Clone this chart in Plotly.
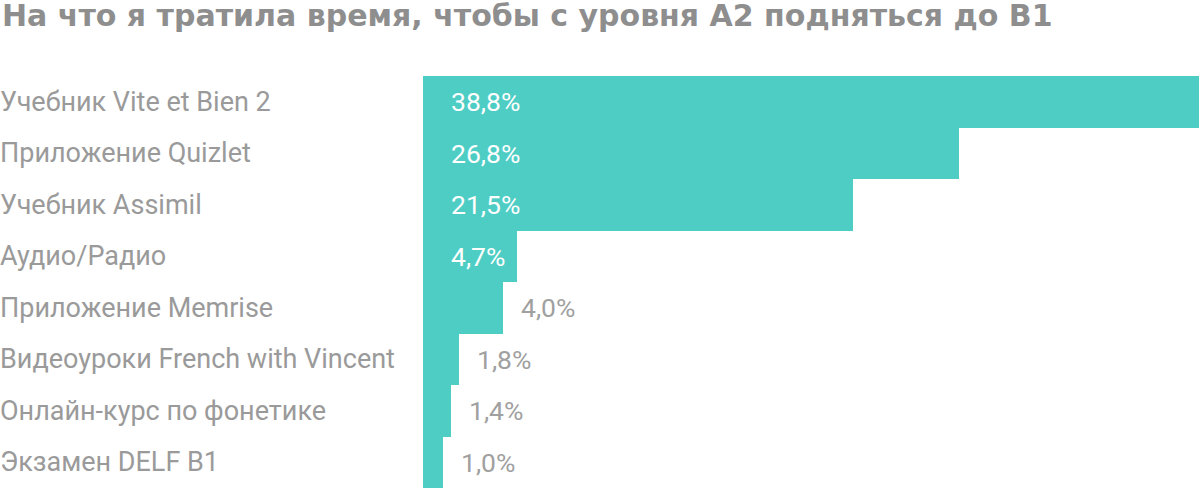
import plotly.graph_objects as go

# Data
categories = [
    "Учебник Vite et Bien 2",
    "Приложение Quizlet",
    "Учебник Assimil",
    "Аудио/Радио",
    "Приложение Memrise",
    "Видеоуроки French with Vincent",
    "Онлайн-курс по фонетике",
    "Экзамен DELF B1",
]
shares = [38.8, 26.8, 21.5, 4.7, 4.0, 1.8, 1.4, 1.0]

title = "На что я тратила время, чтобы с уровня A2 подняться до B1"

BAR = "#4ecdc4"
GREY = "#9a9a9a"
FONT = "Roboto, Arial, sans-serif"

fig = go.Figure(go.Bar(
    x=shares,
    y=categories,
    orientation="h",
    marker=dict(color=BAR, line=dict(width=0)),
    hoverinfo="skip",
))

annotations = []
for cat, v in zip(categories, shares):
    label = f"{v:.1f}".replace(".", ",") + "%"
    # category name at the far left
    annotations.append(dict(
        x=0, xref="paper", y=cat, yref="y", text=cat, showarrow=False,
        xanchor="left", xshift=-2, font=dict(family=FONT, size=27, color=GREY),
    ))
    if v > 4.5:
        annotations.append(dict(
            x=0, xref="x", y=cat, yref="y", text=label, showarrow=False,
            xanchor="left", xshift=26, font=dict(family=FONT, size=26.5, color="white"),
        ))
    else:
        annotations.append(dict(
            x=v, xref="x", y=cat, yref="y", text=label, showarrow=False,
            xanchor="left", xshift=16, font=dict(family=FONT, size=26.5, color="#a0a0a0"),
        ))

fig.update_layout(
    width=1200, height=490,
    margin=dict(l=0, r=0, t=76, b=2),
    paper_bgcolor="white", plot_bgcolor="white",
    bargap=0,
    showlegend=False,
    title=dict(text="<b>" + title + "</b>", x=0, xref="container", xanchor="left",
               y=1, yref="container", yanchor="top", pad=dict(t=5, l=2),
               font=dict(family="DejaVu Sans, sans-serif", size=30, color="#8e8e8e")),
    xaxis=dict(range=[-21.15, 38.85], visible=False, fixedrange=True),
    yaxis=dict(categoryorder="array", categoryarray=categories,
               range=[7.5, -0.5], visible=False, fixedrange=True),
    annotations=annotations,
)

# drop the browser's default page margin so the figure sits at the top-left corner
fig.write_html("out.html", config={"displayModeBar": False},
               post_script="document.body.style.margin='0';")
